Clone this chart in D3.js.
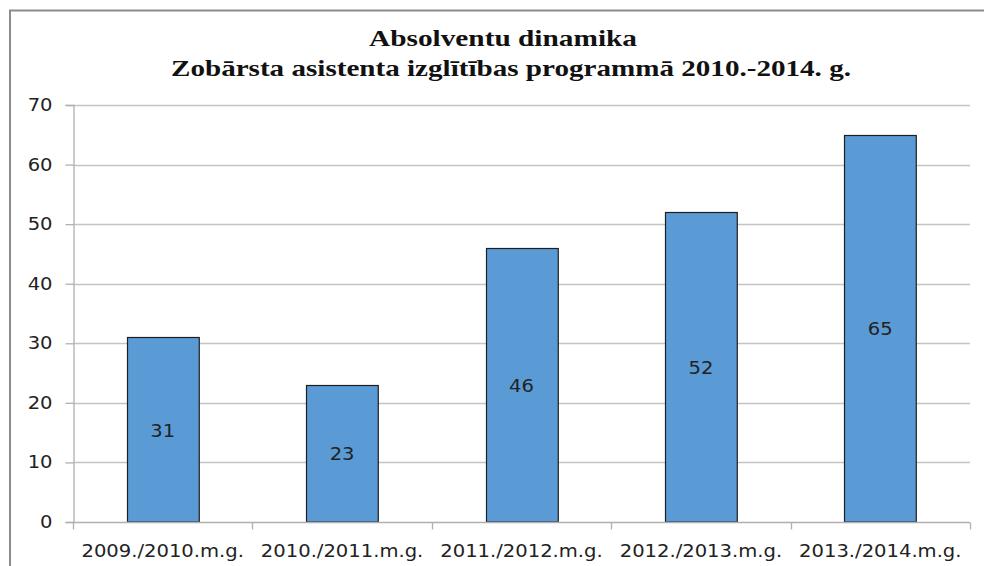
<!DOCTYPE html>
<html>
<head>
<meta charset="utf-8">
<script src="https://cdn.jsdelivr.net/npm/d3@7"></script>
<style>
  html, body { margin: 0; padding: 0; background: #fff; }
  svg { display: block; }
</style>
</head>
<body>
<svg id="chart" width="984" height="566"></svg>
<script>
const titleLines = ["Absolventu dinamika", "Zobārsta asistenta izglītības programmā 2010.-2014. g."];
const categories = ["2009./2010.m.g.", "2010./2011.m.g.", "2011./2012.m.g.", "2012./2013.m.g.", "2013./2014.m.g."];
const values = [31, 23, 46, 52, 65];
const yTicks = [0, 10, 20, 30, 40, 50, 60, 70];

const svg = d3.select("#chart");
const W = 984, H = 566;
const m = { left: 73, right: 14, top: 105, bottom: 44 };
const plotW = W - m.left - m.right;
const plotH = H - m.top - m.bottom;
const STRETCH = 1.15;

function widen(sel) {
  sel.each(function () {
    const len = this.getComputedTextLength();
    d3.select(this).attr("textLength", len * STRETCH).attr("lengthAdjust", "spacingAndGlyphs");
  });
}

// outer frame (cut off at the bottom and right)
svg.append("path")
  .attr("d", `M10,${H + 2} L10,10.5 L${W + 2},10.5`)
  .attr("fill", "none").attr("stroke", "#8c8c8c").attr("stroke-width", 2);

const x = d3.scaleBand().domain(categories).range([m.left, m.left + plotW]).paddingInner(0.6).paddingOuter(0.3);
const y = d3.scaleLinear().domain([0, 70]).range([m.top + plotH, m.top]);

// gridlines
svg.append("g").selectAll("line").data(yTicks.slice(1)).join("line")
  .attr("x1", m.left).attr("x2", m.left + plotW)
  .attr("y1", d => Math.round(y(d)) + 0.5).attr("y2", d => Math.round(y(d)) + 0.5)
  .attr("stroke", "#c4c4c4").attr("stroke-width", 1.3);

// y axis
const yAxis = svg.append("g").attr("transform", `translate(${m.left + 0.5},0)`)
  .call(d3.axisLeft(y).tickValues(yTicks).tickSize(8).tickPadding(13).tickFormat(d3.format("d")));
yAxis.select(".domain").attr("stroke", "#b0b0b0").attr("stroke-width", 1.3);
yAxis.selectAll(".tick line").attr("stroke", "#b0b0b0").attr("stroke-width", 1.3);
yAxis.selectAll("text").attr("font-family", "DejaVu Sans").attr("font-size", 17).attr("fill", "#222")
  .call(widen);

// bars
svg.append("g").selectAll("rect").data(values).join("rect")
  .attr("x", (d, i) => Math.round(x(categories[i])) + 0.5)
  .attr("y", d => Math.round(y(d)) + 0.5)
  .attr("width", x.bandwidth())
  .attr("height", d => y(0) - Math.round(y(d)) - 0.5)
  .attr("fill", "#5b9bd5").attr("stroke", "#1e1e1e").attr("stroke-width", 1.2);

// x axis
const xb = d3.scaleLinear().domain([0, categories.length]).range([m.left, m.left + plotW]);
const xAxisG = svg.append("g").attr("transform", `translate(0,${Math.round(y(0)) + 0.5})`);
xAxisG.append("line").attr("x1", m.left).attr("x2", m.left + plotW)
  .attr("stroke", "#b0b0b0").attr("stroke-width", 1.3);
xAxisG.selectAll(".tk").data(d3.range(categories.length + 1)).join("line").attr("class", "tk")
  .attr("x1", d => Math.round(xb(d)) + 0.5).attr("x2", d => Math.round(xb(d)) + 0.5)
  .attr("y1", 0).attr("y2", 7).attr("stroke", "#b0b0b0").attr("stroke-width", 1.3);
svg.append("g").selectAll("text").data(categories).join("text")
  .attr("x", d => x(d) + x.bandwidth() / 2)
  .attr("y", 557)
  .attr("text-anchor", "middle")
  .attr("font-family", "DejaVu Sans").attr("font-size", 17).attr("fill", "#222")
  .text(d => d)
  .call(widen);

// data labels
svg.append("g").selectAll("text").data(values).join("text")
  .attr("x", (d, i) => x(categories[i]) + x.bandwidth() / 2)
  .attr("y", d => (y(d) + y(0)) / 2 + 7)
  .attr("text-anchor", "middle")
  .attr("font-family", "DejaVu Sans").attr("font-size", 17).attr("fill", "#222")
  .text(d => d)
  .call(widen);

// title
const tl = [{ t: titleLines[0], x: 503, y: 46, w: 268 }, { t: titleLines[1], x: 511, y: 76, w: 680 }];
svg.append("g").selectAll("text").data(tl).join("text")
  .attr("x", d => d.x).attr("y", d => d.y)
  .attr("text-anchor", "middle")
  .attr("font-family", "Liberation Serif").attr("font-weight", "bold").attr("font-size", 24)
  .attr("textLength", d => d.w).attr("lengthAdjust", "spacingAndGlyphs")
  .attr("fill", "#111")
  .text(d => d.t);
</script>
</body>
</html>
